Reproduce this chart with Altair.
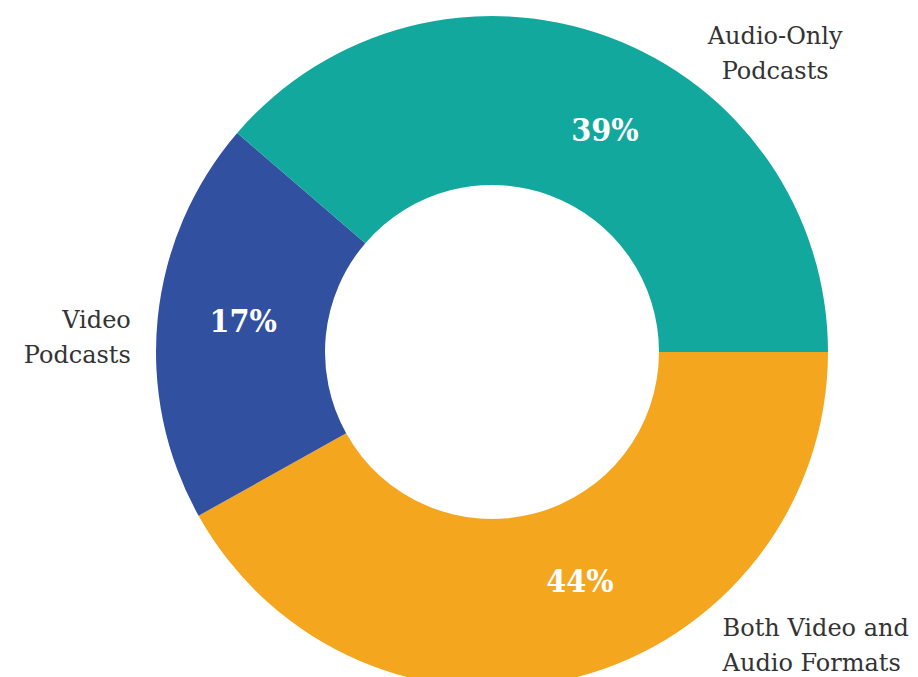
import math
import altair as alt
import pandas as pd

# Data
categories = ["Both Video and Audio Formats", "Video Podcasts", "Audio-Only Podcasts"]
shares = [41.9, 19.4, 38.7]          # slice sizes as drawn (degrees measured / 3.6)
pct_labels = ["44%", "17%", "39%"]   # printed labels
name_labels = ["Both Video and\nAudio Formats", "Video\nPodcasts", "Audio-Only\nPodcasts"]
order_idx = [0, 1, 2]

# Styles
colors = ["#F5A61F", "#3250A0", "#13A89D"]
CX, CY = 484, 344
R_OUT, R_IN = 336, 167
PCT_FONT = "DejaVu Serif Condensed, DejaVu Serif, serif"
NAME_FONT = "DejaVu Serif, serif"
# per-label offsets: (pct dx, pct dy, name align, name dx, name dy)
label_style = [
    (25, -12, "left", 140, -71),
    (0, -5, "right", -3, 5),
    (26, 13, "center", 158, 23),
]

df = pd.DataFrame({
    "cat": categories,
    "share": shares,
    "pct": pct_labels,
    "name": name_labels,
    "idx": order_idx,
})

theta_scale = alt.Scale(domain=[0, 100], range=[math.pi / 2, math.pi / 2 + 2 * math.pi])

base = alt.Chart(df)

arcs = base.mark_arc(outerRadius=R_OUT, innerRadius=R_IN).encode(
    theta=alt.Theta("share:Q", stack=True, scale=theta_scale),
    color=alt.Color("cat:N", scale=alt.Scale(domain=categories, range=colors), legend=None),
    order=alt.Order("idx:Q"),
    x=alt.value(CX),
    y=alt.value(CY),
)

lab = base.transform_window(
    cum="sum(share)", sort=[alt.SortField("idx")], frame=[None, 0]
).transform_calculate(mid="datum.cum - datum.share / 2")

layers = [arcs]
for i, (pdx, pdy, nalign, ndx, ndy) in enumerate(label_style):
    sub = lab.transform_filter(f"datum.idx == {i}")
    pct = sub.mark_text(
        font=PCT_FONT, fontSize=32, fontWeight="bold", color="white",
        align="center", baseline="middle", dx=pdx, dy=pdy,
    ).encode(
        theta=alt.Theta("mid:Q", stack=None, scale=theta_scale),
        radius=alt.value(250),
        text="pct:N",
        x=alt.value(CX), y=alt.value(CY),
    )
    name = sub.mark_text(
        font=NAME_FONT, fontSize=24, color="#333333", lineBreak="\n", lineHeight=35,
        align=nalign, baseline="middle", dx=ndx, dy=ndy,
    ).encode(
        theta=alt.Theta("mid:Q", stack=None, scale=theta_scale),
        radius=alt.value(360),
        text="name:N",
        x=alt.value(CX), y=alt.value(CY),
    )
    layers += [pct, name]

chart = alt.layer(*layers).properties(
    width=902, height=669, autosize=alt.AutoSizeParams(type="none"), padding=0,
).configure_view(stroke=None)

chart.save("out.html", embed_options={"renderer": "svg", "actions": False})
